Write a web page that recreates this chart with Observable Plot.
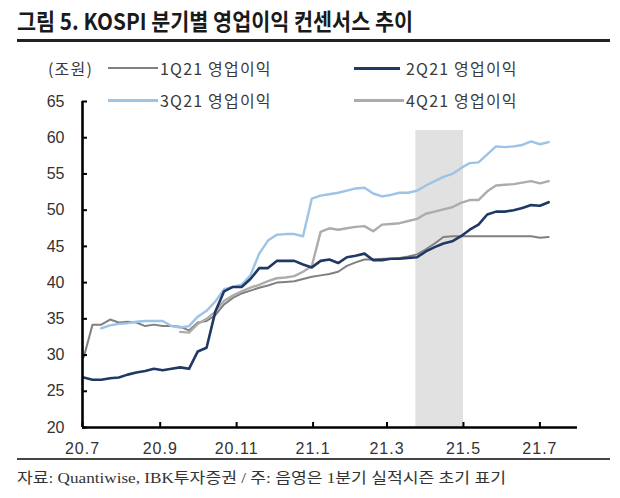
<!DOCTYPE html>
<html>
<head>
<meta charset="utf-8">
<script src="https://cdn.jsdelivr.net/npm/d3@7"></script>
<script src="https://cdn.jsdelivr.net/npm/@observablehq/plot@0.6"></script>
<style>
  body { margin: 0; background: #fff; }
  #wrap { position: relative; width: 620px; height: 498px; overflow: hidden; background: #fff;
          font-family: "Noto Sans CJK KR", "Noto Sans", sans-serif; }
  #title { position: absolute; left: 17px; top: 9px; font-size: 23px; line-height: 1; font-weight: bold;
           color: #1a1a1a; white-space: nowrap; transform-origin: 0 0; }
  .rule { position: absolute; left: 17px; width: 593px; }
  #chart { position: absolute; left: 0; top: 0; }
  .leg { position: absolute; font-size: 16px; line-height: 1; color: #3a3a3a; white-space: nowrap; letter-spacing: 1.2px; }
  .legline { position: absolute; height: 0; }
  #caption { position: absolute; left: 17px; top: 471px; font-size: 15px; line-height: 1; color: #333;
             white-space: nowrap; transform-origin: 0 0;
             font-family: "Liberation Serif", "Noto Sans CJK KR", serif; }
</style>
</head>
<body>
<div id="wrap">
  <div id="title">그림 5. KOSPI 분기별 영업이익 컨센서스 추이</div>
  <div class="rule" style="top:39px;height:2.5px;background:#222;"></div>
  <div id="chart"></div>
  <div class="rule" style="top:458px;height:1.5px;background:#444;"></div>
  <div id="caption">자료: Quantiwise, IBK투자증권 / 주: 음영은 1분기 실적시즌 초기 표기</div>
</div>
<script>
// ---- data ----
const dates = [
  "2020-07-02","2020-07-09","2020-07-16","2020-07-23","2020-07-30","2020-08-06","2020-08-13","2020-08-20","2020-08-27","2020-09-03",
  "2020-09-10","2020-09-17","2020-09-24","2020-10-01","2020-10-08","2020-10-15","2020-10-22","2020-10-29","2020-11-05","2020-11-12",
  "2020-11-19","2020-11-26","2020-12-03","2020-12-10","2020-12-17","2020-12-24","2020-12-31","2021-01-07","2021-01-14","2021-01-21",
  "2021-01-28","2021-02-04","2021-02-11","2021-02-18","2021-02-25","2021-03-04","2021-03-11","2021-03-18","2021-03-25","2021-04-01",
  "2021-04-08","2021-04-15","2021-04-22","2021-04-29","2021-05-06","2021-05-13","2021-05-20","2021-05-27","2021-06-03","2021-06-10",
  "2021-06-17","2021-06-24","2021-07-01","2021-07-08"
];
const op1Q21 = [
  29.7, 34.2, 34.2, 34.9, 34.5, 34.6, 34.5, 34.0, 34.2, 34.0,
  34.0, 33.9, 33.4, 34.5, 34.7, 35.5, 37.0, 37.9, 38.5, 38.9,
  39.3, 39.6, 40.0, 40.1, 40.2, 40.5, 40.8, 41.0, 41.2, 41.5,
  42.3, 42.8, 43.2, 43.2, 43.3, 43.3, 43.4, 43.6, 43.9, 44.6,
  45.4, 46.3, 46.4, 46.4, 46.4, 46.4, 46.4, 46.4, 46.4, 46.4,
  46.4, 46.4, 46.2, 46.3
];
const op2Q21 = [
  26.9, 26.6, 26.6, 26.8, 26.9, 27.3, 27.6, 27.8, 28.1, 27.9,
  28.1, 28.3, 28.1, 30.5, 31.0, 36.0, 38.8, 39.4, 39.4, 40.5,
  42.0, 42.0, 43.0, 43.0, 43.0, 42.5, 42.1, 43.0, 43.2, 42.7,
  43.5, 43.7, 44.0, 43.1, 43.1, 43.3, 43.3, 43.4, 43.5, 44.3,
  44.9, 45.4, 45.7, 46.4, 47.3, 48.0, 49.4, 49.8, 49.8, 50.0,
  50.3, 50.7, 50.6, 51.1
];
const op3Q21 = [
  null, null, 33.7, 34.1, 34.3, 34.4, 34.6, 34.7, 34.7, 34.7,
  34.0, 33.8, 34.0, 35.3, 36.1, 37.4, 39.1, 39.4, 39.7, 41.0,
  44.0, 45.8, 46.6, 46.7, 46.7, 46.4, 51.6, 52.0, 52.2, 52.4,
  52.7, 53.0, 53.1, 52.3, 51.9, 52.1, 52.4, 52.4, 52.7, 53.4,
  54.0, 54.6, 55.0, 55.8, 56.5, 56.6, 57.7, 58.8, 58.7, 58.8,
  59.0, 59.5, 59.1, 59.4
];
const op4Q21 = [
  null, null, null, null, null, null, null, null, null, null,
  null, 33.2, 33.1, 34.3, 35.0, 36.0, 37.5, 38.2, 38.8, 39.3,
  39.7, 40.2, 40.6, 40.7, 40.9, 41.5, 42.3, 47.0, 47.5, 47.3,
  47.5, 47.7, 47.8, 47.1, 48.0, 48.1, 48.2, 48.5, 48.8, 49.5,
  49.8, 50.1, 50.4, 51.0, 51.4, 51.4, 52.6, 53.4, 53.5, 53.6,
  53.8, 54.0, 53.7, 54.0
];
const seriesNames = ["1Q21 영업이익", "2Q21 영업이익", "3Q21 영업이익", "4Q21 영업이익"];
const seriesColors = ["#808080", "#1f3864", "#9dc3e6", "#acacac"];
const unitLabel = "(조원)";
const yTicks = [20, 25, 30, 35, 40, 45, 50, 55, 60, 65];
const xTickDates = ["2020-07-01", "2020-09-01", "2020-11-01", "2021-01-01", "2021-03-01", "2021-05-01", "2021-07-01"];
const xTickLabels = ["20.7", "20.9", "20.11", "21.1", "21.3", "21.5", "21.7"];
const xDomain = ["2020-07-01", "2021-07-31"];
const shadeStart = ["2021-03-24"];
const shadeEnd = ["2021-05-01"];
const shadeTop = [61];

// ---- build ----
const allSeries = [op1Q21, op2Q21, op3Q21, op4Q21];
const widths = [2, 2.6, 2.4, 2.4];
const rows = [];
allSeries.forEach((vals, s) => vals.forEach((v, i) => {
  if (v != null) rows.push({series: seriesNames[s], date: new Date(dates[i]), value: v});
}));
const shade = shadeStart.map((d, i) => ({x1: new Date(d), x2: new Date(shadeEnd[i]), top: shadeTop[i]}));
const tickDates = xTickDates.map(d => new Date(d));
const labelMap = new Map(tickDates.map((d, i) => [+d, xTickLabels[i]]));
const y0 = yTicks[0], y1 = yTicks[yTicks.length - 1];
const xStart = new Date(xDomain[0]);

const lineMarks = [];
[0, 3, 2, 1].forEach(s => {
  lineMarks.push(Plot.line(rows.filter(r => r.series === seriesNames[s]), {
    x: "date", y: "value", stroke: seriesColors[s], strokeWidth: widths[s], curve: "linear"
  }));
});

const chart = Plot.plot({
  width: 620, height: 460,
  marginTop: 101, marginBottom: 33, marginLeft: 82, marginRight: 43,
  style: {fontFamily: "'Liberation Sans', Arial, sans-serif", fontSize: "16px", color: "#333", background: "transparent", overflow: "visible"},
  x: {type: "utc", domain: [xStart, new Date(xDomain[1])], label: null},
  y: {domain: [y0, y1], label: null},
  marks: [
    Plot.rect(shade, {x1: "x1", x2: "x2", y1: () => y0, y2: "top", fill: "#e1e1e1"}),
    ...lineMarks,
    Plot.ruleY([y0], {stroke: "#000", strokeWidth: 2.6}),
    Plot.ruleX([xStart], {x: d => d, y1: y0, y2: y1, stroke: "#000", strokeWidth: 2.6}),
    Plot.axisY({ticks: yTicks, tickSize: 0, tickPadding: 18, tickFormat: d => String(d), label: null, fill: "#333"}),
    Plot.axisY({ticks: yTicks, tickSize: 5, dx: 5, fill: "none", label: null, stroke: "#000", strokeWidth: 2}),
    Plot.axisX({ticks: tickDates, tickSize: 0, tickPadding: 15, tickFormat: d => labelMap.get(+d), label: null, fill: "#333"}),
    Plot.axisX({ticks: tickDates, tickSize: 5, dy: -5, fill: "none", label: null, stroke: "#000", strokeWidth: 2})
  ]
});
chart.querySelectorAll("text").forEach(t => {
  if (t.closest("[aria-label='x-axis tick label']")) t.setAttribute("letter-spacing", "1");
});
document.getElementById("chart").appendChild(chart);

// ---- legend ----
const wrap = document.getElementById("wrap");
function addText(txt, left, cy, cls) {
  const d = document.createElement("div");
  d.className = cls; d.textContent = txt;
  d.style.left = left + "px"; d.style.top = (cy - 8) + "px";
  wrap.appendChild(d);
  return d;
}
addText(unitLabel, 48, 68, "leg");
const legPos = [[108, 68], [354, 68], [108, 100], [354, 100]];
seriesNames.forEach((name, s) => {
  const [lx, cy] = legPos[s];
  const ln = document.createElement("div");
  ln.className = "legline";
  const w = s === 0 ? 2 : 3;
  ln.style.cssText = `left:${lx}px;top:${cy - w / 2}px;width:${s < 2 && s === 1 ? 46 : 50}px;border-top:${w}px solid ${seriesColors[s]};`;
  wrap.appendChild(ln);
  addText(name, lx + (s === 1 || s === 3 ? 52 : 52), cy, "leg");
});

// ---- fit title / caption widths ----
function fit(id, target) {
  const el = document.getElementById(id);
  const w = el.getBoundingClientRect().width;
  if (w > 0) el.style.transform = `scaleX(${target / w})`;
}
fit("title", 396);
fit("caption", 489);
</script>
</body>
</html>
